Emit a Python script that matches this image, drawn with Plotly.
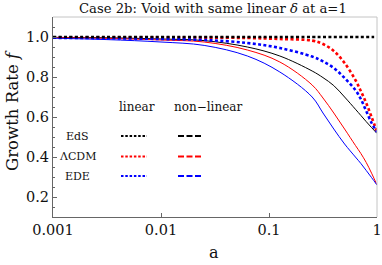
import plotly.graph_objects as go

# scale factor a (log-spaced sample points)
a_vals = [0.001, 0.00316, 0.01, 0.0251, 0.0631, 0.126, 0.251, 0.316,
          0.398, 0.501, 0.631, 0.708, 0.794, 0.891, 1.0]

# linear growth rate f
eds_lin = [1.0] * len(a_vals)
lcdm_lin = [0.999, 0.999, 0.998, 0.997, 0.995, 0.990, 0.982, 0.965,
            0.930, 0.870, 0.785, 0.730, 0.670, 0.600, 0.525]
ede_lin = [0.996, 0.994, 0.990, 0.985, 0.970, 0.945, 0.902, 0.878,
           0.845, 0.795, 0.735, 0.690, 0.630, 0.570, 0.525]

# non-linear growth rate f
eds_nl = [0.998, 0.996, 0.990, 0.982, 0.950, 0.905, 0.830, 0.797,
          0.757, 0.700, 0.639, 0.608, 0.577, 0.547, 0.518]
lcdm_nl = [0.997, 0.993, 0.985, 0.975, 0.935, 0.875, 0.760, 0.695,
           0.620, 0.540, 0.458, 0.418, 0.373, 0.319, 0.260]
ede_nl = [0.994, 0.987, 0.975, 0.958, 0.905, 0.825, 0.700, 0.620,
          0.540, 0.465, 0.400, 0.368, 0.333, 0.297, 0.260]

x_ticks = [0.001, 0.01, 0.1, 1]
x_ticktext = ["0.001", "0.01", "0.1", "1"]

models = ["EdS", "ΛCDM", "EDE"]
colors = ["#000000", "#ff0000", "#0000ff"]

FONT = "DejaVu Serif"

fig = go.Figure()

for ys, c in zip([eds_nl, lcdm_nl, ede_nl], colors):
    fig.add_trace(go.Scatter(x=a_vals, y=ys, mode="lines",
                             line=dict(color=c, width=1, shape="spline", smoothing=1.0),
                             showlegend=False, hoverinfo="skip"))

for ys, c in zip([lcdm_lin, ede_lin, eds_lin], [colors[1], colors[2], colors[0]]):
    fig.add_trace(go.Scatter(x=a_vals, y=ys, mode="lines",
                             line=dict(color=c, width=2.6, dash="3px,2.4px", shape="spline"),
                             showlegend=False, hoverinfo="skip"))

L, R, T, B = 53, 5, 17, 48
W, H = 382, 265

fig.update_layout(
    width=W, height=H,
    margin=dict(l=L, r=R, t=T, b=B, autoexpand=False),
    paper_bgcolor="white", plot_bgcolor="white",
    font=dict(family=FONT, color="#111"),
    showlegend=False,
)

fig.update_xaxes(type="log", range=[-3, 0], tickmode="array",
                 tickvals=x_ticks, ticktext=x_ticktext, automargin=False,
                 ticks="inside", ticklen=4, tickcolor="#666", tickwidth=1,
                 showline=True, linecolor="#666", linewidth=1,
                 showgrid=False, zeroline=False,
                 tickfont=dict(family=FONT, size=14.5, color="#111"))
fig.update_yaxes(range=[0.1, 1.1], tickmode="linear", tick0=0.2, dtick=0.2,
                 tickformat=".1f", automargin=False,
                 ticks="inside", ticklen=4, tickcolor="#666", tickwidth=1,
                 minor=dict(dtick=0.05, ticks="inside", ticklen=2, tickcolor="#666"),
                 showline=True, linecolor="#666", linewidth=1,
                 showgrid=False, zeroline=False,
                 tickfont=dict(family=FONT, size=14.5, color="#111"))

# top / right frame in light gray
fig.add_shape(type="line", xref="paper", yref="paper", x0=0, x1=1, y0=1, y1=1,
              line=dict(color="#c4c4c4", width=1))
fig.add_shape(type="line", xref="paper", yref="paper", x0=1, x1=1, y0=0, y1=1,
              line=dict(color="#c4c4c4", width=1))

pw, ph = W - L - R, H - T - B


def px(xp):
    return (xp - L) / pw


def py(yp):
    return (H - B - yp) / ph


def label(text, x, y, size, angle=0):
    fig.add_annotation(text=text, xref="paper", yref="paper", x=px(x), y=py(y),
                       textangle=angle, showarrow=False,
                       font=dict(family=FONT, size=size, color="#111"),
                       xanchor="center", yanchor="middle")


# title and axis titles
label("Case 2b: Void with same linear <i>δ</i> at a=1", 213, 9, 13.2)
label("a", 214, 252, 16)
label("Growth Rate <i>f</i>", 12, 111, 16.5, angle=-90)

# inset legend table
label("linear", 137, 107, 12)
label("non−linear", 207.5, 107, 12)
row_y = [136, 156.5, 176]
for name, c, yy in zip(models, colors, row_y):
    label(name, 77.5, yy, 11)
    fig.add_shape(type="line", xref="paper", yref="paper",
                  x0=px(121), x1=px(147), y0=py(yy), y1=py(yy),
                  line=dict(color=c, width=2, dash="2.5px,1.8px"))
    fig.add_shape(type="line", xref="paper", yref="paper",
                  x0=px(178), x1=px(202), y0=py(yy), y1=py(yy),
                  line=dict(color=c, width=2.2, dash="6px,2.5px"))

fig.write_html("out.html", config={"displayModeBar": False},
               post_script="document.body.style.margin='0';")
